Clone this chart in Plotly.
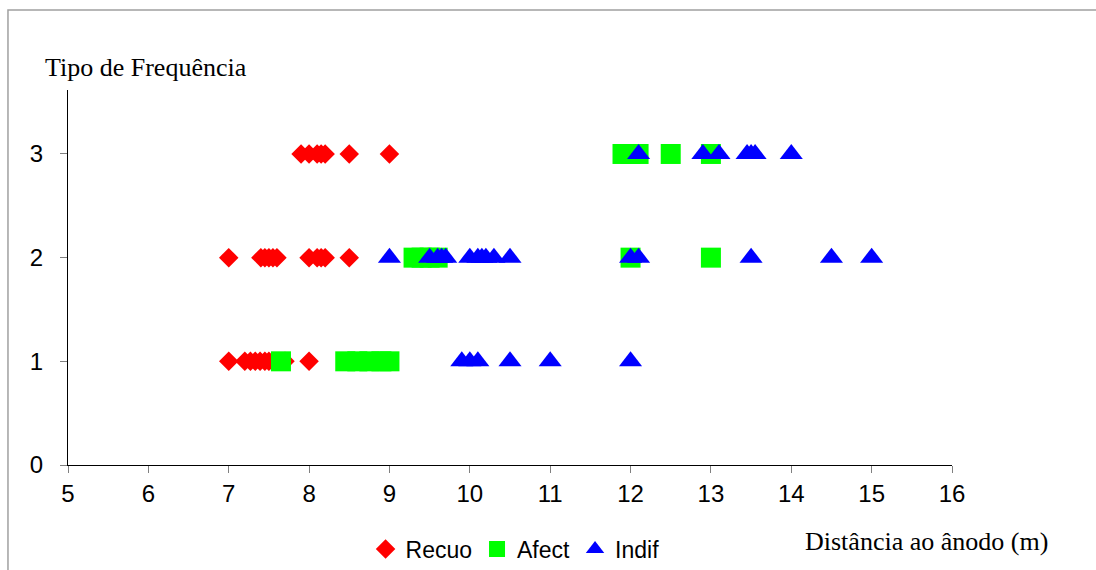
import plotly.graph_objects as go

# Data
recuo_x = [7.9, 8.0, 8.1, 8.15, 8.2, 8.5, 9.0,
           7.0, 7.4, 7.45, 7.5, 7.55, 7.6, 8.0, 8.1, 8.15, 8.2, 8.5,
           7.0, 7.2, 7.27, 7.33, 7.39, 7.45, 7.5, 7.7, 8.0]
recuo_y = [3] * 7 + [2] * 11 + [1] * 9

afect_x = [11.9, 12.0, 12.1, 12.5, 13.0,
           9.3, 9.4, 9.5, 9.6, 12.0, 13.0,
           7.65, 8.45, 8.6, 8.75, 8.9, 9.0]
afect_y = [3] * 5 + [2] * 6 + [1] * 6

indif_x = [12.1, 12.9, 13.1, 13.45, 13.5, 13.55, 14.0,
           9.0, 9.5, 9.6, 9.65, 9.7, 10.0, 10.1, 10.15, 10.2, 10.3, 10.5, 12.0, 12.1, 13.5, 14.5, 15.0,
           9.9, 10.0, 10.1, 10.5, 11.0, 12.0]
indif_y = [3] * 7 + [2] * 16 + [1] * 6

x_ticks = list(range(5, 17))
y_ticks = [0, 1, 2, 3]

fig = go.Figure()
fig.add_trace(go.Scatter(x=recuo_x, y=recuo_y, mode="markers", name="Recuo",
                         marker=dict(symbol="diamond", size=15, color="#ff0000")))
fig.add_trace(go.Scatter(x=afect_x, y=afect_y, mode="markers", name="Afect",
                         marker=dict(symbol="square", size=20, color="#00ff00")))
fig.add_trace(go.Scatter(x=indif_x, y=indif_y, mode="markers", name="Indif",
                         marker=dict(symbol="triangle-up", size=20, color="#0000ff")))

axis_font = dict(family="Liberation Sans, Arial", size=24, color="black")
fig.update_layout(
    width=1096, height=570,
    margin=dict(l=68, r=144, t=90, b=105, autoexpand=False),
    paper_bgcolor="white", plot_bgcolor="white",
    showlegend=True,
    legend=dict(orientation="h", x=0.5057, xanchor="center", y=-0.224, yanchor="middle",
                font=dict(family="Liberation Sans, Arial", size=23, color="black"),
                itemwidth=30, tracegroupgap=0, bgcolor="rgba(0,0,0,0)"),
    xaxis=dict(range=[5, 16], tickvals=x_ticks, showgrid=False, zeroline=False,
               showline=True, linecolor="black", linewidth=1.2,
               ticks="outside", ticklen=7, tickcolor="#808080", tickfont=axis_font,
               automargin=False),
    yaxis=dict(range=[0, 3.617], tickvals=y_ticks, showgrid=False, zeroline=False,
               showline=True, linecolor="black", linewidth=1.2,
               ticks="outside", ticklen=7, tickcolor="#808080", tickfont=axis_font,
               ticklabelstandoff=12, automargin=False),
    annotations=[
        dict(text="Tipo de Frequência", xref="paper", yref="paper", x=-0.0283, y=1.0613,
             xanchor="left", yanchor="middle", showarrow=False,
             font=dict(family="Liberation Serif, Times New Roman", size=26, color="black")),
        dict(text="Distância ao ânodo (m)", xref="paper", yref="paper", x=1.111, y=-0.2027,
             xanchor="right", yanchor="middle", showarrow=False,
             font=dict(family="Liberation Serif, Times New Roman", size=26, color="black")),
    ],
    shapes=[
        dict(type="rect", xref="paper", yref="paper", x0=-0.0679, x1=1.4, y0=-0.6, y1=1.2133,
             line=dict(color="#a0a0a0", width=1.5), layer="below"),
    ],
)

fig.write_html("out.html")
